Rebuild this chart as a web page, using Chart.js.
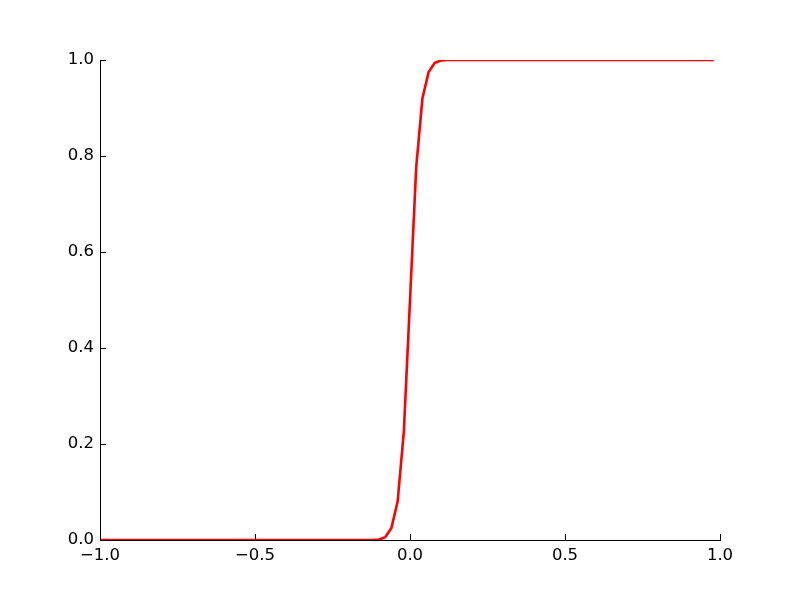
<!DOCTYPE html>
<html>
<head>
<meta charset="utf-8">
<script src="https://cdn.jsdelivr.net/npm/chart.js@4/dist/chart.umd.min.js"></script>
<style>
  html, body { margin: 0; padding: 0; background: #fff; }
  #wrap { width: 800px; height: 600px; }
</style>
</head>
<body>
<div id="wrap"><canvas id="chart" width="800" height="600"></canvas></div>
<script>
// valores
const xValues = [-1.0, -0.12, -0.1, -0.08, -0.06, -0.04, -0.02, 0.0, 0.02, 0.04, 0.06, 0.08, 0.1, 0.12, 0.98];
const yValues = [0, 0, 0.001, 0.006, 0.025, 0.08, 0.225, 0.5, 0.777, 0.92, 0.975, 0.994, 0.999, 1.0, 1.0];
const xTicks = [-1.0, -0.5, 0.0, 0.5, 1.0];
const yTicks = [0.0, 0.2, 0.4, 0.6, 0.8, 1.0];

const puntos = xValues.map((x, i) => ({ x: x, y: yValues[i] }));

function etiqueta(v) {
    return v.toFixed(1).replace('-', '\u2212');
}

// marcas de ticks hacia adentro (estilo clasico)
const ticksDentro = {
    id: 'ticksDentro',
    afterDatasetsDraw(chart) {
        const ctx = chart.ctx;
        const area = chart.chartArea;
        const sx = chart.scales.x, sy = chart.scales.y;
        ctx.save();
        ctx.strokeStyle = '#000';
        ctx.lineWidth = 1;
        ctx.beginPath();
        xTicks.forEach(v => {
            const px = Math.round(sx.getPixelForValue(v)) + 0.5;
            ctx.moveTo(px, area.bottom);
            ctx.lineTo(px, area.bottom - 6);
        });
        yTicks.forEach(v => {
            const py = Math.round(sy.getPixelForValue(v)) + 0.5;
            ctx.moveTo(area.left, py);
            ctx.lineTo(area.left + 6, py);
        });
        ctx.stroke();
        ctx.restore();
    }
};

new Chart(document.getElementById('chart'), {
    type: 'line',
    data: {
        datasets: [{
            data: puntos,
            borderColor: '#ff0000',
            borderWidth: 2.6,
            pointRadius: 0,
            tension: 0,
            fill: false
        }]
    },
    options: {
        responsive: false,
        animation: false,
        layout: { padding: { top: 60, right: 80, left: 0, bottom: 0 } },
        plugins: {
            legend: { display: false },
            tooltip: { enabled: false }
        },
        scales: {
            x: {
                type: 'linear',
                min: -1,
                max: 1,
                afterBuildTicks: s => { s.ticks = xTicks.map(v => ({ value: v })); },
                afterFit: s => { s.height = 60; },
                grid: { display: false, drawTicks: false },
                border: { display: true, color: '#000', width: 1 },
                ticks: {
                    color: '#000',
                    padding: 6,
                    maxRotation: 0,
                    font: { family: 'DejaVu Sans', size: 16.5 },
                    callback: v => etiqueta(v)
                }
            },
            y: {
                type: 'linear',
                min: 0,
                max: 1,
                afterBuildTicks: s => { s.ticks = yTicks.map(v => ({ value: v })); },
                afterFit: s => { s.width = 100; },
                grid: { display: false, drawTicks: false },
                border: { display: true, color: '#000', width: 1 },
                ticks: {
                    color: '#000',
                    padding: 6,
                    font: { family: 'DejaVu Sans', size: 16.5 },
                    callback: v => etiqueta(v)
                }
            }
        }
    },
    plugins: [ticksDentro]
});
</script>
</body>
</html>
